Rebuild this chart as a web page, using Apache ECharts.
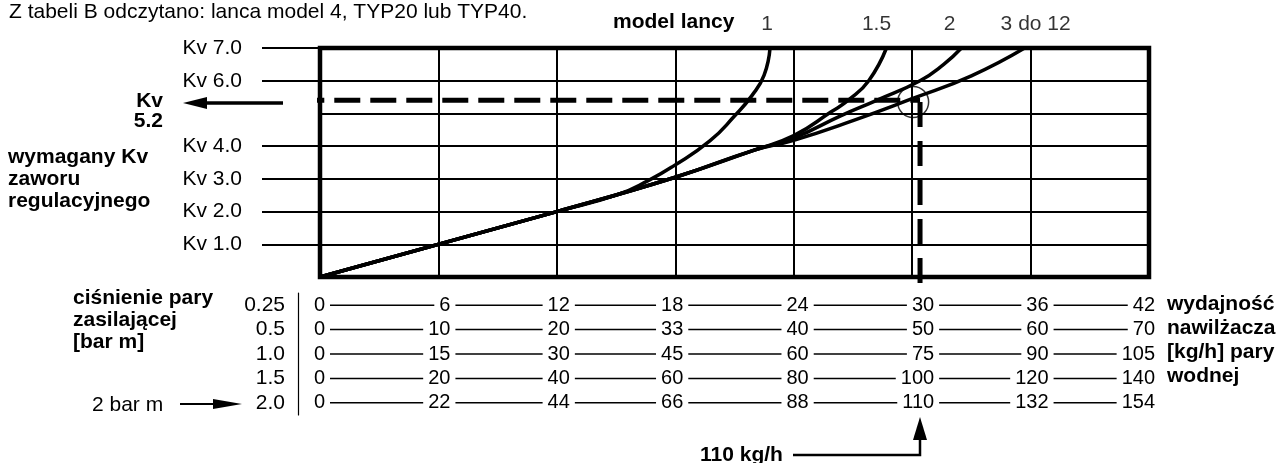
<!DOCTYPE html>
<html>
<head>
<meta charset="utf-8">
<script src="https://cdn.jsdelivr.net/npm/echarts@6/dist/echarts.min.js"></script>
<style>
  html, body { margin: 0; padding: 0; background: #fff; }
  #chart { width: 1288px; height: 463px; }
</style>
</head>
<body>
<div id="chart"></div>
<script>
// Kv lines that carry a label (Kv 5.0 has none in the original)
const kvTicks = [1, 2, 3, 4, 6, 7];

// lance models and their curves [capacity on the 0.25 bar scale, Kv]
const lanceModels = ['1', '1.5', '2', '3 do 12'];
const curveModel1 = [[0, 0], [12, 2], [15, 2.5], [16.7, 2.97], [17.9, 3.39], [19.75, 4.16], [21, 4.92], [21.9, 5.56], [22.5, 6.17], [22.8, 7]];
const curveModel15 = [[0, 0], [12, 2], [18, 3.05], [22, 3.88], [24, 4.32], [25.9, 5.05], [26.8, 5.42], [27.8, 6.0], [28.7, 7]];
const curveModel2 = [[0, 0], [12, 2], [18, 3.05], [22, 3.88], [24, 4.25], [26.35, 4.92], [28.2, 5.4], [30.4, 6.0], [31.6, 6.5], [32.5, 7]];
const curveModel3to12 = [[0, 0], [12, 2], [18, 3.05], [22, 3.88], [24, 4.18], [27, 4.78], [30, 5.45], [33, 6.15], [35.7, 7]];

// supply pressure rows and humidifier output columns [kg/h]
const pressures = ['0.25', '0.5', '1.0', '1.5', '2.0'];
const cap025 = [0, 6, 12, 18, 24, 30, 36, 42];
const cap05 = [0, 10, 20, 33, 40, 50, 60, 70];
const cap10 = [0, 15, 30, 45, 60, 75, 90, 105];
const cap15 = [0, 20, 40, 60, 80, 100, 120, 140];
const cap20 = [0, 22, 44, 66, 88, 110, 132, 154];

// reading: 110 kg/h at 2 bar m -> Kv line (drawn a bit above 5)
const readX = 30.4;
const readKv = 5.4;
const circlePoint = [30.05, 5.35];

const FONT = '"Liberation Sans", Arial, sans-serif';
const capRows = [cap025, cap05, cap10, cap15, cap20];
const tipNudge = [-3, -10, -12, 11];
const colNudge = [5, 12, 13, 8, 15, 22, 18, 6];

const measureCtx = document.createElement('canvas').getContext('2d');
measureCtx.font = '20px ' + FONT;
function textW(s) { return measureCtx.measureText(String(s)).width; }

const tableData = [];
capRows.forEach(function (row, r) {
  row.forEach(function (v, c) {
    tableData.push([cap025[c], r, v, c < row.length - 1 ? row[c + 1] : null, c]);
  });
});

const curves = [curveModel1, curveModel15, curveModel2, curveModel3to12];

const chart = echarts.init(document.getElementById('chart'));

function txt(text, x, y, bold, align, size) {
  return {
    type: 'text',
    style: {
      text: text, x: x, y: y,
      font: (bold ? 'bold ' : '') + (size || 21) + 'px ' + FONT,
      fill: '#000',
      align: align || 'left', textAlign: align || 'left',
      verticalAlign: 'middle', textVerticalAlign: 'middle'
    }
  };
}

const option = {
  animation: false,
  backgroundColor: '#fff',
  textStyle: { fontFamily: FONT },
  grid: [
    { left: 320, top: 48, width: 829, height: 229, show: true, borderColor: '#000', borderWidth: 4.5, backgroundColor: 'transparent', outerBoundsMode: 'none' },
    { left: 320, top: 293, width: 829, height: 122, show: false, outerBoundsMode: 'none' }
  ],
  xAxis: [
    {
      gridIndex: 0, type: 'value', min: 0, max: 42, interval: 6,
      axisLine: { show: false }, axisTick: { show: false }, axisLabel: { show: false },
      splitLine: { show: true, lineStyle: { color: '#000', width: 2 } }
    },
    { gridIndex: 1, type: 'value', min: 0, max: 42, show: false }
  ],
  yAxis: [
    {
      gridIndex: 0, type: 'value', min: 0, max: 7, interval: 1,
      axisLine: { show: false }, axisTick: { show: false }, axisLabel: { show: false },
      splitLine: { show: true, lineStyle: { color: '#000', width: 1.8 } }
    },
    {
      gridIndex: 0, type: 'value', min: 0, max: 7, interval: 1, position: 'left',
      axisLine: { show: false },
      axisTick: { show: true, length: 58, customValues: kvTicks, lineStyle: { color: '#000', width: 1.8 } },
      axisLabel: {
        customValues: kvTicks, margin: 78, fontSize: 21, color: '#000', fontFamily: FONT,
        formatter: function (v) { return 'Kv ' + v.toFixed(1); }
      },
      splitLine: { show: false }
    },
    {
      gridIndex: 1, type: 'category', data: pressures, inverse: true, offset: 22,
      axisLine: { show: true, onZero: false, lineStyle: { color: '#000', width: 1.2 } },
      axisTick: { show: false },
      axisLabel: { interval: 0, margin: 13, fontSize: 21, color: '#000', fontFamily: FONT },
      splitLine: { show: false }
    }
  ],
  series: curves.map(function (pts, i) {
    return {
      name: lanceModels[i], type: 'line', xAxisIndex: 0, yAxisIndex: 0,
      data: pts, showSymbol: false, symbol: 'none',
      smooth: 0.5,
      lineStyle: { color: '#000', width: 3.5 }, z: 5
    };
  }).concat([
    {
      name: 'model lancy', type: 'scatter', xAxisIndex: 0, yAxisIndex: 0,
      data: curves.map(function (pts, i) {
        return { value: pts[pts.length - 1], label: { offset: [tipNudge[i], 0] } };
      }),
      symbolSize: 1, itemStyle: { color: 'rgba(0,0,0,0)' },
      label: {
        show: true, position: 'top', distance: 13, fontSize: 21, color: '#000', fontFamily: FONT,
        formatter: function (p) { return lanceModels[p.dataIndex]; }
      },
      clip: false, z: 6
    },
    {
      name: 'odczyt Kv', type: 'line', xAxisIndex: 0, yAxisIndex: 0,
      data: [[-1.1, readKv], [readX, readKv]], symbol: 'none', clip: false,
      lineStyle: { color: '#000', width: 5, type: [26, 10] }, z: 7
    },
    {
      name: 'odczyt wydajności', type: 'line', xAxisIndex: 0, yAxisIndex: 0,
      data: [[readX, readKv - 0.05], [readX, -0.3]], symbol: 'none', clip: false,
      lineStyle: { color: '#000', width: 5, type: [25, 14] }, z: 7
    },
    {
      name: 'punkt', type: 'scatter', xAxisIndex: 0, yAxisIndex: 0,
      data: [circlePoint], symbol: 'circle', symbolSize: 31,
      itemStyle: { color: 'rgba(0,0,0,0)', borderColor: '#000', borderWidth: 1.5 }, z: 8
    },
    {
      name: 'tabela', type: 'custom', xAxisIndex: 1, yAxisIndex: 2,
      data: tableData, clip: false,
      renderItem: function (params, api) {
        const item = tableData[params.dataIndex];
        const col = item[4];
        const p = api.coord([item[0], item[1]]);
        const xr = p[0] + colNudge[col];
        const children = [{
          type: 'text',
          style: {
            text: String(item[2]), x: xr, y: p[1], font: '20px ' + FONT, fill: '#000',
            align: 'right', textAlign: 'right', verticalAlign: 'middle', textVerticalAlign: 'middle'
          }
        }];
        if (item[3] !== null) {
          const q = api.coord([cap025[col + 1], item[1]]);
          const nextLeft = q[0] + colNudge[col + 1] - textW(item[3]);
          children.push({
            type: 'line',
            shape: { x1: xr + 5, y1: p[1], x2: nextLeft - 5, y2: p[1] },
            style: { stroke: '#000', lineWidth: 1.5 }
          });
        }
        return { type: 'group', children: children };
      }
    }
  ]),
  graphic: [
    txt('Z tabeli B odczytano: lanca model 4, TYP20 lub TYP40.', 9, 12, false, 'left', 21),
    txt('model lancy', 613, 22, true),
    txt('Kv', 163, 101, true, 'right'),
    txt('5.2', 163, 121, true, 'right'),
    txt('wymagany Kv', 8, 157, true),
    txt('zaworu', 8, 179, true),
    txt('regulacyjnego', 8, 201, true),
    txt('ciśnienie pary', 73, 298, true),
    txt('zasilającej', 73, 320, true),
    txt('[bar m]', 73, 342, true),
    txt('2 bar m', 92, 405, false),
    txt('wydajność', 1167, 304, true),
    txt('nawilżacza', 1167, 328, true),
    txt('[kg/h] pary', 1167, 352, true),
    txt('wodnej', 1167, 376, true),
    txt('110 kg/h', 700, 455, true),
    { type: 'polyline', shape: { points: [[283, 103], [204, 103]] }, style: { stroke: '#000', lineWidth: 3.5, fill: null } },
    { type: 'polygon', shape: { points: [[183, 103], [207, 97], [207, 109]] }, style: { fill: '#000' } },
    { type: 'polyline', shape: { points: [[180, 404], [216, 404]] }, style: { stroke: '#000', lineWidth: 2, fill: null } },
    { type: 'polygon', shape: { points: [[242, 404], [213, 399], [213, 409]] }, style: { fill: '#000' } },
    { type: 'polyline', shape: { points: [[793, 455], [920, 455], [920, 437]] }, style: { stroke: '#000', lineWidth: 2.5, fill: null } },
    { type: 'polygon', shape: { points: [[920, 417], [913, 440], [927, 440]] }, style: { fill: '#000' } }
  ]
};

chart.setOption(option);
</script>
</body>
</html>
